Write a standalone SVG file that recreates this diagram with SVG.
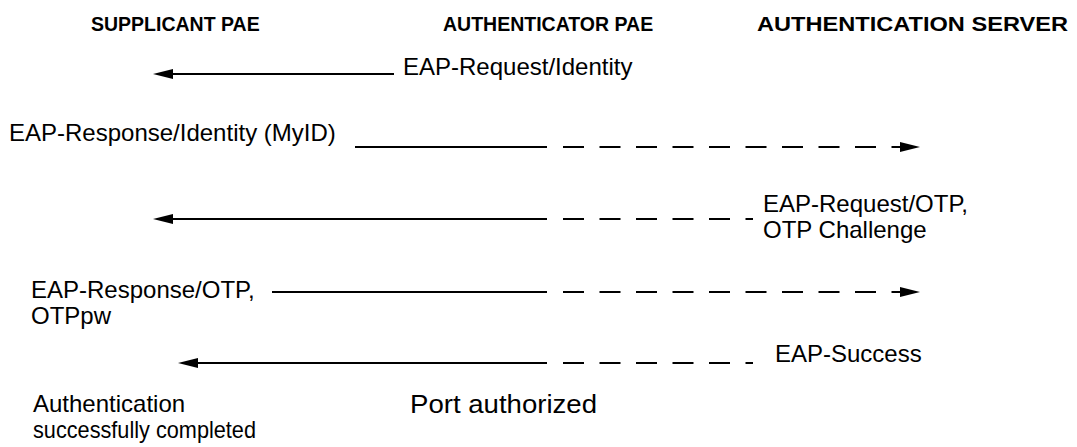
<svg xmlns="http://www.w3.org/2000/svg" width="1077" height="447" viewBox="0 0 1077 447">
<style>
.hdr{font-family:"Liberation Sans",Arial,sans-serif;font-weight:bold;font-size:19.5px;fill:#000}
.lbl{font-family:"Liberation Sans",Arial,sans-serif;font-size:24px;fill:#000}
.ln{stroke:#000;stroke-width:2;fill:none}
.dash{stroke:#000;stroke-width:2;fill:none;stroke-dasharray:21 15.5}
</style>
<defs>
<marker id="ah" viewBox="0 0 20 10" refX="0" refY="5" markerWidth="20" markerHeight="10" markerUnits="userSpaceOnUse" orient="auto">
<path d="M0,0 L20,5 L0,10 z" fill="#000"/>
</marker>
</defs>
<rect width="1077" height="447" fill="#fff"/>
<g id="headers">
<text class="hdr" x="91" y="31">SUPPLICANT PAE</text>
<text class="hdr" x="443" y="31">AUTHENTICATOR PAE</text>
<text class="hdr" x="757" y="31" textLength="311" lengthAdjust="spacingAndGlyphs">AUTHENTICATION SERVER</text>
</g>
<g id="connectors">
<path class="ln" d="M394,74 H173" marker-end="url(#ah)"/>
<path class="ln" d="M355,147 H547"/>
<path class="dash" d="M563,147 H900" marker-end="url(#ah)"/>
<path class="dash" d="M563,219 H753"/>
<path class="ln" d="M547,219 H173" marker-end="url(#ah)"/>
<path class="ln" d="M272,292 H547"/>
<path class="dash" d="M563,292 H900" marker-end="url(#ah)"/>
<path class="dash" d="M563,363 H753"/>
<path class="ln" d="M547,363 H198" marker-end="url(#ah)"/>
</g>
<g id="msg1"><text class="lbl" x="403" y="75">EAP-Request/Identity</text></g>
<g id="msg2"><text class="lbl" x="9" y="141">EAP-Response/Identity (MyID)</text></g>
<g id="msg3"><text class="lbl" x="763" y="212">EAP-Request/OTP,</text><text class="lbl" x="763" y="238">OTP Challenge</text></g>
<g id="msg4"><text class="lbl" x="31" y="298">EAP-Response/OTP,</text><text class="lbl" x="31" y="324">OTPpw</text></g>
<g id="msg5"><text class="lbl" x="775" y="362">EAP-Success</text></g>
<g id="status">
<text class="lbl" x="33" y="412">Authentication</text>
<text class="lbl" x="33" y="438" textLength="223" lengthAdjust="spacingAndGlyphs">successfully completed</text>
<text class="lbl" x="410" y="413" style="font-size:26px" textLength="187" lengthAdjust="spacingAndGlyphs">Port authorized</text>
</g>
</svg>
